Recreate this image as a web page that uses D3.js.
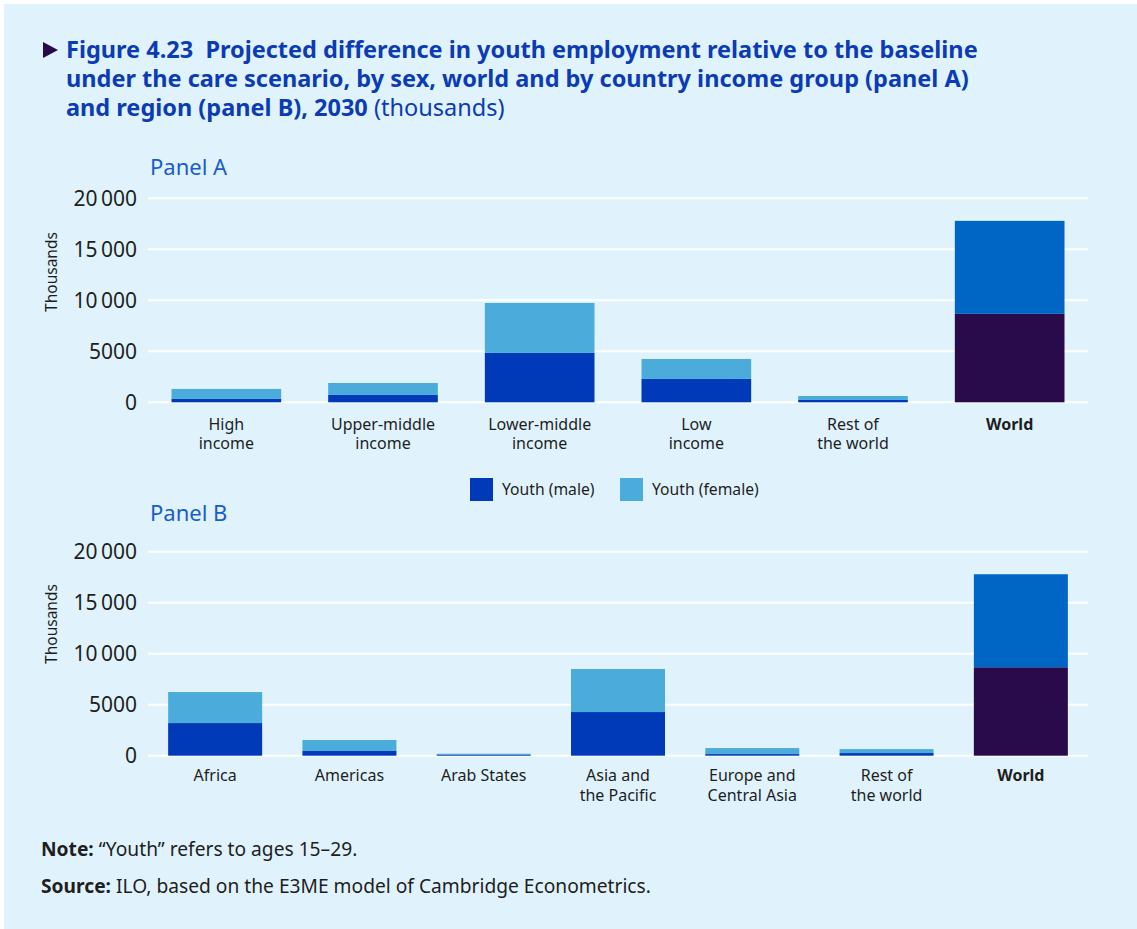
<!DOCTYPE html>
<html>
<head>
<meta charset="utf-8">
<script src="https://cdn.jsdelivr.net/npm/d3@7"></script>
<style>
  html, body { margin: 0; padding: 0; background: #ffffff; }
  svg { display: block; }
  text { font-family: "Noto Sans", "Open Sans", sans-serif; }
</style>
</head>
<body>
<svg id="chart" width="1137" height="929"></svg>
<script>
// ---- Data (thousands) ----
const seriesKeys = ["male", "female"];
const seriesLabels = ["Youth (male)", "Youth (female)"];

const panelACategories = ["High income", "Upper-middle income", "Lower-middle income", "Low income", "Rest of the world", "World"];
const panelALabelLines = [["High", "income"], ["Upper-middle", "income"], ["Lower-middle", "income"], ["Low", "income"], ["Rest of", "the world"], ["World"]];
const panelAMale   = [330, 720, 4840, 2290, 230, 8670];
const panelAFemale = [980, 1175, 4900, 1960, 390, 9120];

const panelBCategories = ["Africa", "Americas", "Arab States", "Asia and the Pacific", "Europe and Central Asia", "Rest of the world", "World"];
const panelBLabelLines = [["Africa"], ["Americas"], ["Arab States"], ["Asia and", "the Pacific"], ["Europe and", "Central Asia"], ["Rest of", "the world"], ["World"]];
const panelBMale   = [3200, 460, 120, 4280, 160, 260, 8670];
const panelBFemale = [3040, 1080, 70, 4220, 590, 390, 9120];

const yTickValues = [0, 5000, 10000, 15000, 20000];

// ---- Styling ----
const colors = {
  male: "#003ab8", female: "#4bacdc",
  worldMale: "#290a4a", worldFemale: "#0066c5",
  bg: "#e0f3fd", title: "#0b3bb5", panel: "#1a5bcf", text: "#1e1e1e"
};

const svg = d3.select("#chart");

svg.append("rect").attr("x", 4).attr("y", 4).attr("width", 1133).attr("height", 925).attr("fill", colors.bg);

// Title block
svg.append("path").attr("d", "M43,42 L58,50 L43,58 Z").attr("fill", colors.worldMale);
const titleLines = [
  [{t: "Figure 4.23  Projected difference in youth employment relative to the baseline", b: true}],
  [{t: "under the care scenario, by sex, world and by country income group (panel A)", b: true}],
  [{t: "and region (panel B), 2030 ", b: true}, {t: "(thousands)", b: false}]
];
titleLines.forEach((parts, i) => {
  const t = svg.append("text").attr("x", 66).attr("y", 58 + i * 29)
    .attr("font-size", 23.5).attr("fill", colors.title).attr("xml:space", "preserve");
  parts.forEach(p => t.append("tspan").attr("font-weight", p.b ? 700 : 400).text(p.t));
});

const fmt = d => d >= 10000 ? d3.format("d")(Math.floor(d / 1000)) + "\u2009" + "000" : String(d);

function drawPanel(opts) {
  const { categories, labelLines, male, female, x0, x1, yTop, yBottom, title, titleY, labelGap, lineGap, axisTitleY } = opts;
  const rows = categories.map((c, i) => ({ category: c, male: male[i], female: female[i] }));

  const x = d3.scaleBand().domain(categories).range([x0, x1]).paddingInner(0.3).paddingOuter(0.15);
  const y = d3.scaleLinear().domain([0, 20000]).range([yBottom, yTop]);

  const g = svg.append("g");

  g.append("text").attr("x", 150).attr("y", titleY).attr("font-size", 22)
    .attr("fill", colors.panel).text(title);

  // gridlines
  g.append("g").selectAll("line").data(yTickValues).join("line")
    .attr("x1", x0).attr("x2", x1)
    .attr("y1", d => y(d)).attr("y2", d => y(d))
    .attr("stroke", "#ffffff").attr("stroke-width", 2);

  // y axis labels
  const yAxis = d3.axisLeft(y).tickValues(yTickValues).tickFormat(fmt).tickSize(0).tickPadding(11);
  const ya = g.append("g").attr("transform", `translate(${x0},0)`).call(yAxis);
  ya.select(".domain").remove();
  ya.selectAll("text").attr("font-size", 21).attr("fill", colors.text)
    .attr("font-family", "'Noto Sans', sans-serif");

  g.append("text")
    .attr("transform", `translate(57,${axisTitleY}) rotate(-90)`)
    .attr("text-anchor", "middle").attr("font-size", 15.5).attr("fill", colors.text)
    .text("Thousands");

  // stacked bars
  const stacked = d3.stack().keys(seriesKeys)(rows);
  stacked.forEach(layer => {
    g.append("g").selectAll("rect").data(layer).join("rect")
      .attr("x", d => x(d.data.category))
      .attr("width", x.bandwidth())
      .attr("y", d => y(d[1]))
      .attr("height", d => y(d[0]) - y(d[1]))
      .attr("fill", d => d.data.category === "World"
        ? (layer.key === "male" ? colors.worldMale : colors.worldFemale)
        : colors[layer.key]);
  });

  // category labels
  const lab = g.append("g").selectAll("text").data(categories).join("text")
    .attr("x", d => x(d) + x.bandwidth() / 2)
    .attr("y", yBottom + labelGap)
    .attr("text-anchor", "middle").attr("font-size", 16).attr("fill", colors.text)
    .attr("font-weight", d => d === "World" ? 700 : 400);
  lab.each(function(d, i) {
    const sel = d3.select(this);
    labelLines[i].forEach((ln, k) => {
      sel.append("tspan").attr("x", x(d) + x.bandwidth() / 2).attr("dy", k === 0 ? 0 : lineGap).text(ln);
    });
  });
}

drawPanel({
  categories: panelACategories, labelLines: panelALabelLines,
  male: panelAMale, female: panelAFemale,
  x0: 148, x1: 1088, yTop: 198.3, yBottom: 402.3,
  title: "Panel A", titleY: 175, labelGap: 27.5, lineGap: 19, axisTitleY: 272
});

drawPanel({
  categories: panelBCategories, labelLines: panelBLabelLines,
  male: panelBMale, female: panelBFemale,
  x0: 148, x1: 1088, yTop: 551.7, yBottom: 755.7,
  title: "Panel B", titleY: 521, labelGap: 25.5, lineGap: 20, axisTitleY: 624
});

// legend
const legend = svg.append("g").attr("transform", "translate(470,478)");
const legendX = d3.scaleOrdinal().domain(seriesKeys).range([0, 150]);
seriesKeys.forEach((k, i) => {
  const item = legend.append("g").attr("transform", `translate(${legendX(k)},0)`);
  item.append("rect").attr("width", 23).attr("height", 23).attr("fill", colors[k]);
  item.append("text").attr("x", 32).attr("y", 17).attr("font-size", 15.7)
    .attr("fill", colors.text).text(seriesLabels[i]);
});

// notes
const notes = [
  [{t: "Note:", b: true}, {t: " \u201cYouth\u201d refers to ages 15\u201329.", b: false}],
  [{t: "Source:", b: true}, {t: " ILO, based on the E3ME model of Cambridge Econometrics.", b: false}]
];
notes.forEach((parts, i) => {
  const t = svg.append("text").attr("x", 41).attr("y", 856 + i * 37)
    .attr("font-size", 19.2).attr("fill", colors.text).attr("xml:space", "preserve");
  parts.forEach(p => t.append("tspan").attr("font-weight", p.b ? 700 : 400).text(p.t));
});
</script>
</body>
</html>
